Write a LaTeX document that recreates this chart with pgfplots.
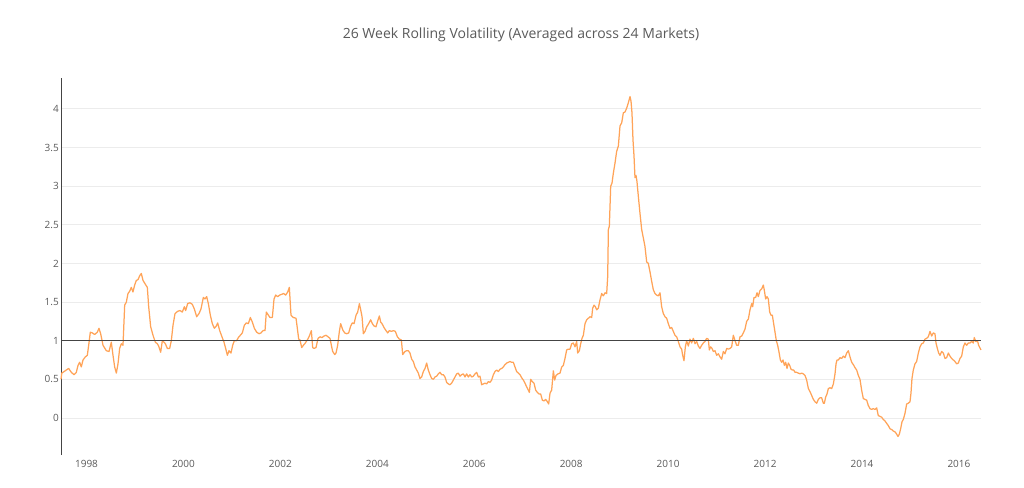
\documentclass[border=0pt]{standalone}
\usepackage{fontspec}
\setmainfont{Open Sans}
\usepackage{pgfplots}
\pgfplotsset{compat=1.18}
\usepackage{pgfplotstable}

\definecolor{linec}{RGB}{255,163,88}
\definecolor{gridc}{RGB}{236,236,236}
\definecolor{axisc}{RGB}{68,68,68}
\definecolor{txtc}{RGB}{90,90,90}

% 26-week rolling volatility, averaged across 24 markets (decimal years)
\pgfplotstableread{
year vol
1997.474 0.50
1997.490 0.58
1997.515 0.59
1997.584 0.62
1997.632 0.64
1997.687 0.59
1997.742 0.56
1997.790 0.59
1997.825 0.68
1997.859 0.72
1997.893 0.66
1997.928 0.75
1997.976 0.79
1998.017 0.81
1998.045 0.94
1998.079 1.11
1998.120 1.10
1998.169 1.08
1998.224 1.11
1998.258 1.16
1998.292 1.09
1998.341 0.94
1998.409 0.87
1998.464 0.86
1998.512 0.98
1998.547 0.81
1998.581 0.66
1998.616 0.58
1998.650 0.70
1998.684 0.90
1998.719 0.96
1998.753 0.94
1998.788 1.46
1998.822 1.50
1998.856 1.61
1998.891 1.64
1998.925 1.69
1998.959 1.63
1998.994 1.72
1999.028 1.78
1999.063 1.79
1999.097 1.84
1999.131 1.87
1999.166 1.78
1999.214 1.73
1999.255 1.69
1999.283 1.44
1999.324 1.18
1999.372 1.07
1999.420 0.98
1999.462 0.96
1999.489 0.93
1999.530 0.85
1999.565 1.00
1999.599 0.98
1999.627 0.96
1999.668 0.90
1999.716 0.90
1999.750 1.00
1999.785 1.20
1999.826 1.35
1999.881 1.38
1999.929 1.39
1999.977 1.37
2000.019 1.44
2000.046 1.39
2000.087 1.48
2000.135 1.49
2000.184 1.47
2000.225 1.41
2000.273 1.31
2000.321 1.35
2000.362 1.41
2000.411 1.56
2000.445 1.54
2000.479 1.57
2000.514 1.48
2000.555 1.33
2000.596 1.22
2000.638 1.16
2000.679 1.19
2000.706 1.23
2000.748 1.13
2000.789 1.06
2000.837 0.98
2000.871 0.90
2000.906 0.81
2000.940 0.87
2000.981 0.84
2001.016 0.94
2001.050 1.00
2001.098 1.00
2001.133 1.04
2001.174 1.07
2001.215 1.10
2001.257 1.20
2001.298 1.23
2001.339 1.22
2001.380 1.30
2001.422 1.24
2001.463 1.16
2001.511 1.11
2001.559 1.09
2001.600 1.10
2001.642 1.13
2001.683 1.13
2001.710 1.37
2001.752 1.33
2001.786 1.30
2001.834 1.30
2001.869 1.54
2001.903 1.59
2001.944 1.57
2001.986 1.59
2002.027 1.60
2002.068 1.61
2002.109 1.59
2002.151 1.63
2002.185 1.69
2002.219 1.33
2002.267 1.30
2002.323 1.29
2002.350 1.16
2002.378 1.02
2002.405 1.01
2002.440 0.91
2002.474 0.94
2002.515 0.97
2002.557 1.01
2002.598 1.06
2002.639 1.13
2002.667 0.91
2002.694 0.90
2002.735 0.91
2002.777 1.03
2002.818 1.05
2002.859 1.04
2002.901 1.06
2002.942 1.07
2002.983 1.05
2003.024 1.03
2003.052 0.94
2003.079 0.86
2003.121 0.82
2003.148 0.84
2003.182 0.94
2003.217 1.12
2003.244 1.22
2003.286 1.14
2003.327 1.10
2003.368 1.09
2003.409 1.10
2003.451 1.19
2003.485 1.23
2003.520 1.22
2003.561 1.33
2003.595 1.37
2003.630 1.48
2003.657 1.40
2003.685 1.31
2003.712 1.09
2003.746 1.12
2003.781 1.18
2003.822 1.22
2003.863 1.27
2003.898 1.22
2003.932 1.19
2003.973 1.18
2004.001 1.24
2004.042 1.32
2004.070 1.24
2004.097 1.22
2004.138 1.17
2004.180 1.13
2004.214 1.10
2004.248 1.13
2004.290 1.12
2004.331 1.13
2004.372 1.12
2004.414 1.05
2004.455 1.02
2004.496 1.01
2004.524 0.82
2004.571 0.86
2004.605 0.87
2004.640 0.87
2004.674 0.84
2004.709 0.76
2004.743 0.73
2004.777 0.66
2004.812 0.62
2004.846 0.58
2004.880 0.51
2004.915 0.53
2004.949 0.60
2004.984 0.64
2005.018 0.71
2005.052 0.62
2005.087 0.56
2005.121 0.51
2005.156 0.50
2005.190 0.53
2005.224 0.54
2005.259 0.57
2005.293 0.59
2005.328 0.56
2005.362 0.56
2005.396 0.53
2005.431 0.46
2005.465 0.44
2005.499 0.43
2005.534 0.45
2005.568 0.49
2005.603 0.53
2005.637 0.57
2005.671 0.58
2005.706 0.54
2005.740 0.56
2005.775 0.57
2005.809 0.53
2005.843 0.57
2005.878 0.53
2005.912 0.56
2005.947 0.53
2005.981 0.54
2006.015 0.57
2006.050 0.59
2006.084 0.53
2006.118 0.54
2006.153 0.43
2006.187 0.44
2006.222 0.45
2006.256 0.44
2006.290 0.47
2006.325 0.46
2006.359 0.49
2006.394 0.56
2006.428 0.60
2006.462 0.62
2006.497 0.60
2006.531 0.63
2006.565 0.64
2006.600 0.66
2006.634 0.69
2006.669 0.71
2006.703 0.72
2006.737 0.73
2006.772 0.72
2006.806 0.72
2006.840 0.66
2006.875 0.60
2006.909 0.58
2006.944 0.56
2006.978 0.52
2007.013 0.49
2007.047 0.45
2007.082 0.40
2007.116 0.36
2007.137 0.33
2007.164 0.50
2007.198 0.47
2007.233 0.45
2007.267 0.36
2007.302 0.33
2007.336 0.31
2007.370 0.31
2007.405 0.23
2007.439 0.22
2007.474 0.24
2007.508 0.21
2007.535 0.18
2007.563 0.32
2007.597 0.36
2007.632 0.61
2007.659 0.49
2007.687 0.55
2007.728 0.57
2007.769 0.58
2007.804 0.66
2007.838 0.68
2007.872 0.77
2007.907 0.88
2007.941 0.89
2007.976 0.89
2008.010 0.96
2008.044 0.97
2008.079 0.92
2008.113 0.99
2008.134 0.84
2008.168 0.87
2008.196 0.96
2008.223 1.03
2008.251 1.07
2008.285 1.22
2008.319 1.27
2008.354 1.29
2008.388 1.31
2008.423 1.30
2008.443 1.42
2008.471 1.46
2008.498 1.44
2008.526 1.40
2008.560 1.42
2008.595 1.53
2008.629 1.61
2008.663 1.58
2008.698 1.62
2008.732 1.61
2008.753 1.83
2008.767 2.44
2008.787 2.48
2008.815 3.00
2008.842 3.04
2008.870 3.17
2008.904 3.30
2008.938 3.45
2008.973 3.52
2009.007 3.78
2009.042 3.82
2009.076 3.95
2009.110 3.96
2009.145 4.01
2009.179 4.08
2009.214 4.16
2009.234 4.10
2009.254 3.95
2009.275 3.60
2009.296 3.39
2009.316 3.11
2009.337 3.14
2009.357 3.06
2009.385 2.87
2009.419 2.65
2009.454 2.44
2009.488 2.33
2009.522 2.22
2009.557 2.02
2009.591 2.00
2009.626 1.89
2009.660 1.77
2009.694 1.66
2009.729 1.61
2009.763 1.59
2009.798 1.58
2009.832 1.62
2009.846 1.55
2009.866 1.44
2009.901 1.35
2009.935 1.31
2009.970 1.29
2010.004 1.22
2010.038 1.16
2010.073 1.17
2010.107 1.12
2010.141 1.07
2010.176 1.05
2010.210 0.99
2010.245 0.92
2010.279 0.89
2010.300 0.81
2010.327 0.74
2010.355 0.92
2010.382 1.00
2010.417 0.93
2010.451 1.02
2010.485 0.97
2010.520 1.03
2010.554 0.96
2010.589 0.99
2010.623 0.93
2010.657 0.90
2010.692 0.94
2010.726 0.97
2010.760 0.99
2010.795 1.03
2010.829 1.02
2010.850 0.88
2010.877 0.92
2010.905 0.90
2010.932 0.86
2010.967 0.87
2011.001 0.81
2011.036 0.83
2011.070 0.79
2011.104 0.76
2011.139 0.86
2011.173 0.83
2011.208 0.90
2011.242 0.89
2011.276 0.90
2011.311 0.92
2011.345 1.07
2011.380 1.00
2011.414 0.94
2011.448 0.94
2011.483 1.05
2011.517 1.06
2011.551 1.10
2011.586 1.15
2011.620 1.25
2011.655 1.28
2011.689 1.40
2011.724 1.48
2011.744 1.44
2011.772 1.56
2011.806 1.56
2011.834 1.62
2011.861 1.57
2011.895 1.65
2011.930 1.67
2011.964 1.72
2011.985 1.65
2012.012 1.54
2012.040 1.57
2012.067 1.54
2012.095 1.37
2012.122 1.33
2012.150 1.33
2012.177 1.22
2012.205 1.11
2012.232 1.00
2012.260 0.94
2012.288 0.85
2012.315 0.75
2012.343 0.72
2012.370 0.75
2012.398 0.68
2012.425 0.72
2012.453 0.64
2012.480 0.71
2012.508 0.68
2012.535 0.63
2012.563 0.62
2012.590 0.62
2012.618 0.59
2012.652 0.59
2012.686 0.58
2012.721 0.57
2012.755 0.58
2012.790 0.57
2012.824 0.55
2012.858 0.49
2012.893 0.38
2012.927 0.34
2012.962 0.29
2012.996 0.24
2013.030 0.21
2013.065 0.19
2013.099 0.24
2013.133 0.26
2013.168 0.26
2013.202 0.19
2013.223 0.19
2013.250 0.27
2013.278 0.31
2013.305 0.38
2013.340 0.39
2013.374 0.38
2013.409 0.44
2013.443 0.57
2013.464 0.70
2013.484 0.75
2013.512 0.75
2013.546 0.78
2013.580 0.77
2013.615 0.80
2013.649 0.78
2013.684 0.84
2013.718 0.87
2013.752 0.79
2013.787 0.72
2013.821 0.69
2013.856 0.65
2013.890 0.62
2013.924 0.55
2013.958 0.50
2013.992 0.36
2014.027 0.25
2014.061 0.24
2014.096 0.23
2014.130 0.16
2014.164 0.12
2014.199 0.11
2014.233 0.12
2014.267 0.11
2014.302 0.13
2014.336 0.03
2014.371 0.02
2014.405 0.01
2014.439 -0.02
2014.474 -0.04
2014.508 -0.07
2014.543 -0.10
2014.577 -0.14
2014.611 -0.15
2014.646 -0.17
2014.680 -0.18
2014.715 -0.21
2014.742 -0.24
2014.770 -0.21
2014.797 -0.14
2014.825 -0.05
2014.852 -0.02
2014.887 0.06
2014.921 0.18
2014.955 0.19
2014.990 0.21
2015.010 0.32
2015.031 0.51
2015.058 0.62
2015.093 0.70
2015.127 0.73
2015.162 0.84
2015.196 0.92
2015.230 0.96
2015.265 0.97
2015.299 1.02
2015.334 1.03
2015.368 1.05
2015.402 1.12
2015.437 1.06
2015.471 1.10
2015.505 1.09
2015.526 0.97
2015.554 0.90
2015.581 0.84
2015.609 0.81
2015.643 0.86
2015.677 0.84
2015.712 0.77
2015.746 0.78
2015.781 0.84
2015.815 0.80
2015.849 0.77
2015.884 0.75
2015.918 0.73
2015.952 0.70
2015.987 0.71
2016.021 0.77
2016.056 0.80
2016.090 0.92
2016.124 0.97
2016.159 0.94
2016.193 0.97
2016.228 0.97
2016.262 0.99
2016.296 0.97
2016.317 1.04
2016.345 0.99
2016.365 0.99
2016.386 0.99
2016.406 0.94
2016.455 0.88
}\voldata

\begin{document}
\begin{tikzpicture}
\path[use as bounding box] (0pt,0pt) rectangle (1024pt,487pt);
\begin{axis}[
  at={(61pt,32pt)}, anchor=south west,
  scale only axis, width=920pt, height=377pt,
  xmin=1997.474, xmax=2016.455,
  ymin=-0.48, ymax=4.40,
  axis lines*=left, separate axis lines,
  x axis line style={draw=none},
  y axis line style={draw=axisc, line width=0.9pt, -},
  major tick length=0pt,
  xtick={1998,2000,2002,2004,2006,2008,2010,2012,2014,2016},
  xticklabels={1998,2000,2002,2004,2006,2008,2010,2012,2014,2016},
  ytick={0,0.5,1,1.5,2,2.5,3,3.5,4},
  yticklabels={0,0.5,1,1.5,2,2.5,3,3.5,4},
  ymajorgrids, grid style={draw=gridc, line width=0.8pt},
  tick label style={font=\fontsize{10}{12}\selectfont, text=txtc},
  xticklabel style={anchor=north, inner sep=0pt, yshift=-5pt},
  yticklabel style={anchor=east, inner sep=0pt, xshift=-2pt},
  clip=false,
]
\addplot[linec, line width=1.25pt, line join=round] table[x=year, y=vol] {\voldata};
\addplot[axisc, line width=0.9pt] coordinates {(1997.474,1) (2016.455,1)};
\end{axis}
\node[anchor=base, text=txtc, font=\fontsize{14}{17}\selectfont] at (521pt,448.7pt)
  {26 Week Rolling Volatility (Averaged across 24 Markets)};
\end{tikzpicture}
\end{document}
